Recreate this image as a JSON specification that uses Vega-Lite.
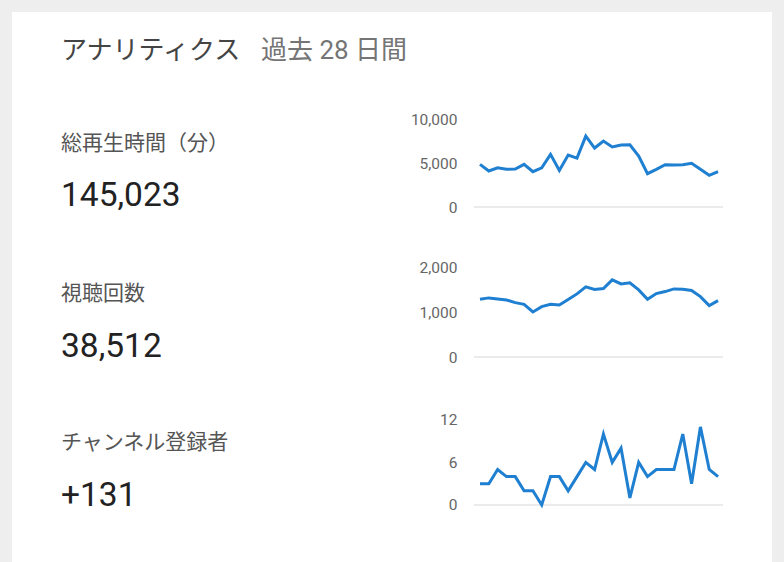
{
  "$schema": "https://vega.github.io/schema/vega-lite/v6.json",
  "background": "#eeeeee",
  "padding": {"left": 12, "top": 12, "right": 12, "bottom": 0},
  "columns": 2,
  "bounds": "flush",
  "spacing": 0,
  "config": {
    "view": {"stroke": null, "fill": "white"},
    "font": "Roboto, 'Noto Sans CJK JP', sans-serif",
    "concat": {"spacing": 0}
  },
  "datasets": {
    "summary": [
      {"metric": "watch", "kind": "head", "text": "アナリティクス"},
      {"metric": "watch", "kind": "period", "text": "過去 28 日間"},
      {"metric": "watch", "kind": "label", "text": "総再生時間（分）"},
      {"metric": "watch", "kind": "total", "text": "145,023"},
      {"metric": "views", "kind": "label", "text": "視聴回数"},
      {"metric": "views", "kind": "total", "text": "38,512"},
      {"metric": "subs", "kind": "label", "text": "チャンネル登録者"},
      {"metric": "subs", "kind": "total", "text": "+131"}
    ],
    "watch": [
      {"day": 1, "value": 4850}, {"day": 2, "value": 4090}, {"day": 3, "value": 4460}, {"day": 4, "value": 4280},
      {"day": 5, "value": 4310}, {"day": 6, "value": 4850}, {"day": 7, "value": 4010}, {"day": 8, "value": 4460},
      {"day": 9, "value": 5980}, {"day": 10, "value": 4160}, {"day": 11, "value": 5910}, {"day": 12, "value": 5560},
      {"day": 13, "value": 8060}, {"day": 14, "value": 6700}, {"day": 15, "value": 7500}, {"day": 16, "value": 6820},
      {"day": 17, "value": 7040}, {"day": 18, "value": 7060}, {"day": 19, "value": 5790}, {"day": 20, "value": 3790},
      {"day": 21, "value": 4280}, {"day": 22, "value": 4810}, {"day": 23, "value": 4760}, {"day": 24, "value": 4790},
      {"day": 25, "value": 4960}, {"day": 26, "value": 4280}, {"day": 27, "value": 3600}, {"day": 28, "value": 4010}
    ],
    "views": [
      {"day": 1, "value": 1297}, {"day": 2, "value": 1328}, {"day": 3, "value": 1305}, {"day": 4, "value": 1282},
      {"day": 5, "value": 1222}, {"day": 6, "value": 1184}, {"day": 7, "value": 1012}, {"day": 8, "value": 1132},
      {"day": 9, "value": 1184}, {"day": 10, "value": 1169}, {"day": 11, "value": 1290}, {"day": 12, "value": 1418},
      {"day": 13, "value": 1576}, {"day": 14, "value": 1516}, {"day": 15, "value": 1538}, {"day": 16, "value": 1734},
      {"day": 17, "value": 1643}, {"day": 18, "value": 1666}, {"day": 19, "value": 1508}, {"day": 20, "value": 1297},
      {"day": 21, "value": 1425}, {"day": 22, "value": 1470}, {"day": 23, "value": 1530}, {"day": 24, "value": 1523},
      {"day": 25, "value": 1493}, {"day": 26, "value": 1357}, {"day": 27, "value": 1154}, {"day": 28, "value": 1267}
    ],
    "subs": [
      {"day": 1, "value": 3}, {"day": 2, "value": 3}, {"day": 3, "value": 5}, {"day": 4, "value": 4},
      {"day": 5, "value": 4}, {"day": 6, "value": 2}, {"day": 7, "value": 2}, {"day": 8, "value": 0},
      {"day": 9, "value": 4}, {"day": 10, "value": 4}, {"day": 11, "value": 2}, {"day": 12, "value": 4},
      {"day": 13, "value": 6}, {"day": 14, "value": 5}, {"day": 15, "value": 10}, {"day": 16, "value": 6},
      {"day": 17, "value": 8}, {"day": 18, "value": 1}, {"day": 19, "value": 6}, {"day": 20, "value": 4},
      {"day": 21, "value": 5}, {"day": 22, "value": 5}, {"day": 23, "value": 5}, {"day": 24, "value": 10},
      {"day": 25, "value": 3}, {"day": 26, "value": 11}, {"day": 27, "value": 5}, {"day": 28, "value": 4}
    ]
  },
  "concat": [
    {
      "width": 462, "height": 238,
      "data": {"name": "summary"},
      "transform": [{"filter": "datum.metric === 'watch'"}],
      "layer": [
        {
          "transform": [{"filter": "datum.kind === 'head'"}],
          "mark": {"type": "text", "align": "left", "baseline": "middle", "fontSize": 26, "color": "#444444", "dx": 49, "dy": -80.5},
          "encoding": {"text": {"field": "text"}, "x": {"datum": 0, "type": "quantitative", "scale": {"domain": [0, 1]}, "axis": null}}
        },
        {
          "transform": [{"filter": "datum.kind === 'period'"}],
          "mark": {"type": "text", "align": "left", "baseline": "middle", "fontSize": 26, "color": "#757575", "dx": 249, "dy": -80.5},
          "encoding": {"text": {"field": "text"}, "x": {"datum": 0, "type": "quantitative", "scale": {"domain": [0, 1]}, "axis": null}}
        },
        {
          "transform": [{"filter": "datum.kind === 'label'"}],
          "mark": {"type": "text", "align": "left", "baseline": "middle", "fontSize": 21, "color": "#555555", "dx": 49, "dy": 12.5},
          "encoding": {"text": {"field": "text"}, "x": {"datum": 0, "type": "quantitative", "scale": {"domain": [0, 1]}, "axis": null}}
        },
        {
          "transform": [{"filter": "datum.kind === 'total'"}],
          "mark": {"type": "text", "align": "left", "baseline": "middle", "fontSize": 33.5, "color": "#222222", "dx": 49, "dy": 65},
          "encoding": {"text": {"field": "text"}, "x": {"datum": 0, "type": "quantitative", "scale": {"domain": [0, 1]}, "axis": null}}
        }
      ]
    },
    {
      "width": 298, "height": 238,
      "data": {"name": "watch"},
      "layer": [
        {
          "data": {"values": [{}]},
          "mark": {"type": "rule", "color": "#ebebeb", "strokeWidth": 2},
          "encoding": {"x": {"datum": 0.3193, "type": "quantitative", "axis": null}, "x2": {"datum": 28.567}, "y": {"datum": 0, "type": "quantitative"}}
        },
        {
          "mark": {"type": "line", "color": "#1f7fd1", "strokeWidth": 3},
          "encoding": {
            "x": {"field": "day", "type": "quantitative", "scale": {"domain": [0.3193, 34.12], "nice": false, "zero": false}, "axis": null},
            "y": {"field": "value", "type": "quantitative", "scale": {"domain": [-4886, 22159], "nice": false, "zero": false},
              "axis": {"values": [0, 5000, 10000], "format": ",.0f", "title": null, "domain": false, "ticks": false, "tickSize": 0, "grid": false, "labelPadding": 17, "labelFontSize": 15.5, "labelColor": "#666666", "labelOverlap": false}}
          }
        }
      ]
    },
    {
      "width": 462, "height": 150,
      "data": {"name": "summary"},
      "transform": [{"filter": "datum.metric === 'views'"}],
      "layer": [
        {
          "transform": [{"filter": "datum.kind === 'label'"}],
          "mark": {"type": "text", "align": "left", "baseline": "middle", "fontSize": 21, "color": "#555555", "dx": 49, "dy": -31},
          "encoding": {"text": {"field": "text"}, "x": {"datum": 0, "type": "quantitative", "scale": {"domain": [0, 1]}, "axis": null}}
        },
        {
          "transform": [{"filter": "datum.kind === 'total'"}],
          "mark": {"type": "text", "align": "left", "baseline": "middle", "fontSize": 33.5, "color": "#222222", "dx": 49, "dy": 21.5},
          "encoding": {"text": {"field": "text"}, "x": {"datum": 0, "type": "quantitative", "scale": {"domain": [0, 1]}, "axis": null}}
        }
      ]
    },
    {
      "width": 298, "height": 150,
      "data": {"name": "views"},
      "layer": [
        {
          "data": {"values": [{}]},
          "mark": {"type": "rule", "color": "#ebebeb", "strokeWidth": 2},
          "encoding": {"x": {"datum": 0.3193, "type": "quantitative", "axis": null}, "x2": {"datum": 28.567}, "y": {"datum": 0, "type": "quantitative"}}
        },
        {
          "mark": {"type": "line", "color": "#1f7fd1", "strokeWidth": 3},
          "encoding": {
            "x": {"field": "day", "type": "quantitative", "scale": {"domain": [0.3193, 34.12], "nice": false, "zero": false}, "axis": null},
            "y": {"field": "value", "type": "quantitative", "scale": {"domain": [-966, 2404], "nice": false, "zero": false},
              "axis": {"values": [0, 1000, 2000], "format": ",.0f", "title": null, "domain": false, "ticks": false, "tickSize": 0, "grid": false, "labelPadding": 17, "labelFontSize": 15.5, "labelColor": "#666666", "labelOverlap": false}}
          }
        }
      ]
    },
    {
      "width": 462, "height": 162,
      "data": {"name": "summary"},
      "transform": [{"filter": "datum.metric === 'subs'"}],
      "layer": [
        {
          "transform": [{"filter": "datum.kind === 'label'"}],
          "mark": {"type": "text", "align": "left", "baseline": "middle", "fontSize": 21, "color": "#555555", "dx": 49, "dy": -38},
          "encoding": {"text": {"field": "text"}, "x": {"datum": 0, "type": "quantitative", "scale": {"domain": [0, 1]}, "axis": null}}
        },
        {
          "transform": [{"filter": "datum.kind === 'total'"}],
          "mark": {"type": "text", "align": "left", "baseline": "middle", "fontSize": 33.5, "color": "#222222", "dx": 49, "dy": 14.5},
          "encoding": {"text": {"field": "text"}, "x": {"datum": 0, "type": "quantitative", "scale": {"domain": [0, 1]}, "axis": null}}
        }
      ]
    },
    {
      "width": 298, "height": 162,
      "data": {"name": "subs"},
      "layer": [
        {
          "data": {"values": [{}]},
          "mark": {"type": "rule", "color": "#ebebeb", "strokeWidth": 2},
          "encoding": {"x": {"datum": 0.3193, "type": "quantitative", "axis": null}, "x2": {"datum": 28.567}, "y": {"datum": 0, "type": "quantitative"}}
        },
        {
          "mark": {"type": "line", "color": "#1f7fd1", "strokeWidth": 3},
          "encoding": {
            "x": {"field": "day", "type": "quantitative", "scale": {"domain": [0.3193, 34.12], "nice": false, "zero": false}, "axis": null},
            "y": {"field": "value", "type": "quantitative", "scale": {"domain": [-8.03, 14.79], "nice": false, "zero": false},
              "axis": {"values": [0, 6, 12], "format": ",.0f", "title": null, "domain": false, "ticks": false, "tickSize": 0, "grid": false, "labelPadding": 17, "labelFontSize": 15.5, "labelColor": "#666666", "labelOverlap": false}}
          }
        }
      ]
    }
  ]
}
